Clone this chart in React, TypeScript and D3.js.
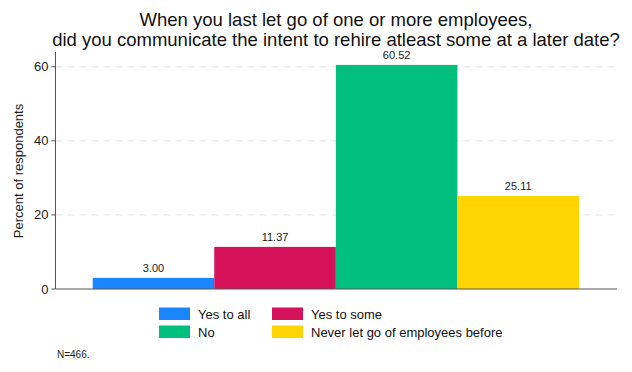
import React from "react";
import * as d3 from "d3";

const categories = ["Yes to all", "Yes to some", "No", "Never let go of employees before"];
const values = [3.0, 11.37, 60.52, 25.11];
const colors = ["#1a85ff", "#d41159", "#00bf7f", "#ffd400"];
const yTicks = [0, 20, 40, 60];
const titleLines = [
  "When you last let go of one or more employees,",
  "did you communicate the intent to rehire atleast some at a later date?",
];

export default function App() {
  const W = 632, H = 372;
  const left = 55.5, right = 617, top = 52, bottom = 289;
  const y = d3.scaleLinear().domain([0, 64]).range([bottom, top]);
  const x = d3.scaleBand<string>().domain(categories).range([92.7, 579]).paddingInner(0);
  const font = "'Liberation Sans', Arial, sans-serif";
  const legendPos = [
    { x: 159, y: 307.5 },
    { x: 272, y: 307.5 },
    { x: 159, y: 325.5 },
    { x: 272, y: 325.5 },
  ];
  return (
    <svg width={W} height={H} style={{ position: "absolute", left: 0, top: 0, background: "#fff" }} fontFamily={font}>
      <rect width={W} height={H} fill="#fff" />
      {titleLines.map((t, i) => (
        <text key={i} x={336} y={26 + i * 20} textAnchor="middle" fontSize={18.5} fill="#111">{t}</text>
      ))}
      {yTicks.filter(t => t > 0).map(t => (
        <line key={t} x1={left} x2={right} y1={y(t)} y2={y(t)} stroke="#e3e3e3" strokeDasharray="7,5" />
      ))}
      {categories.map((c, i) => (
        <g key={c}>
          <rect x={x(c)} y={y(values[i])} width={x.bandwidth()} height={bottom - y(values[i])} fill={colors[i]} />
          <text x={(x(c) as number) + x.bandwidth() / 2} y={y(values[i]) - 6} textAnchor="middle" fontSize={11} fill="#222">{values[i].toFixed(2)}</text>
        </g>
      ))}
      <line x1={left} x2={left} y1={top} y2={bottom} stroke="#555" />
      <line x1={left} x2={right} y1={bottom} y2={bottom} stroke="#555" />
      {yTicks.map(t => (
        <g key={t}>
          <line x1={left - 4} x2={left} y1={y(t)} y2={y(t)} stroke="#555" />
          <text x={left - 7} y={y(t) + 4.5} textAnchor="end" fontSize={13} fill="#222">{t}</text>
        </g>
      ))}
      <text transform={`translate(23,171) rotate(-90)`} textAnchor="middle" fontSize={13} fill="#222">Percent of respondents</text>
      {categories.map((c, i) => (
        <g key={c}>
          <rect x={legendPos[i].x} y={legendPos[i].y} width={31} height={12.5} fill={colors[i]} />
          <text x={legendPos[i].x + 39} y={legendPos[i].y + 11} fontSize={13} fill="#111">{c}</text>
        </g>
      ))}
      <text x={57} y={358} fontSize={10} fill="#222">N=466.</text>
    </svg>
  );
}
